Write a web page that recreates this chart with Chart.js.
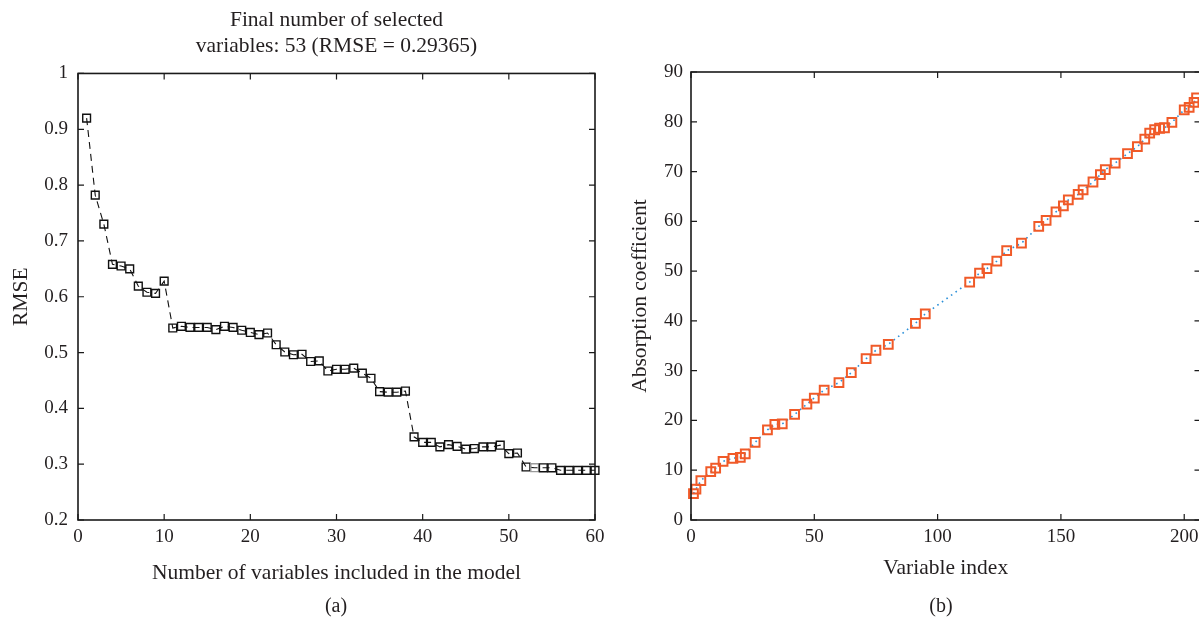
<!DOCTYPE html>
<html><head><meta charset="utf-8">
<script src="https://cdn.jsdelivr.net/npm/chart.js@4.4.0/dist/chart.umd.min.js"></script>
<style>
html,body{margin:0;padding:0;background:#fff;overflow:hidden;width:1199px;height:620px;position:relative;}
#ca{position:absolute;left:0;top:0;}
#cb{position:absolute;left:600px;top:0;}
.lab{position:absolute;top:594px;font:20px "Liberation Serif",serif;color:#231f20;transform:translateX(-50%);}
</style></head><body>
<canvas id="ca" width="620" height="620"></canvas>
<canvas id="cb" width="620" height="620"></canvas>
<div class="lab" style="left:336px">(a)</div>
<div class="lab" style="left:941px">(b)</div>
<script>
// ---- Panel (a): RMSE vs number of variables ----
const nVars = [1,2,3,4,5,6,7,8,9,10,11,12,13,14,15,16,17,18,19,20,21,22,23,24,25,26,27,28,29,30,31,32,33,34,35,36,37,38,39,40,41,42,43,44,45,46,47,48,49,50,51,52,53,54,55,56,57,58,59,60];
const rmse = [0.920,0.782,0.730,0.658,0.655,0.650,0.619,0.608,0.606,0.628,
              0.544,0.547,0.545,0.545,0.545,0.541,0.547,0.545,0.540,0.536,
              0.532,0.535,0.514,0.501,0.496,0.497,0.484,0.485,0.467,0.470,
              0.470,0.472,0.463,0.454,0.430,0.429,0.429,0.431,0.349,0.339,
              0.339,0.331,0.335,0.332,0.327,0.328,0.331,0.331,0.334,0.319,
              0.320,0.295,0.2937,0.2935,0.2935,0.289,0.289,0.289,0.289,0.289];
const finalCount = 53;
const finalRmse = '0.29365';
const titleA = ['Final number of selected', 'variables: ' + finalCount + ' (RMSE = ' + finalRmse + ')'];
const xTitleA = 'Number of variables included in the model';
const yTitleA = 'RMSE';

// ---- Panel (b): selected variables on the spectrum ----
const selIdx = [1,2,4,8,10,13,17,20,22,26,31,34,37,42,47,50,54,60,65,71,75,80,91,95,113,117,120,124,128,134,141,144,148,151,153,157,159,163,166,168,172,177,181,184,186,188,190,192,195,200,202,204,205];
const selAbs = [5.3,6.2,7.9,9.7,10.4,11.8,12.4,12.6,13.3,15.6,18.1,19.2,19.3,21.2,23.3,24.5,26.1,27.6,29.6,32.4,34.1,35.3,39.5,41.4,47.8,49.6,50.5,52.0,54.1,55.6,59.0,60.2,61.9,63.1,64.3,65.4,66.3,67.9,69.4,70.4,71.7,73.6,75.0,76.5,77.7,78.4,78.7,78.8,79.9,82.4,82.9,83.9,84.8];
const xTitleB = 'Variable index';
const yTitleB = 'Absorption coefficient';

const FONT = '"Liberation Serif", "Times New Roman", serif';
const TXT = '#231f20';
const tickFont = {family: FONT, size: 19, weight: 'normal'};
const titleFont = {family: FONT, size: 21.5, weight: 'normal', lineHeight: 1.22};

const boxTicks = {
  id: 'boxTicks',
  afterDraw(chart) {
    const {ctx, chartArea: a, scales: {x, y}} = chart;
    const L = 6;
    ctx.save();
    ctx.strokeStyle = '#1a1a1a';
    ctx.lineWidth = 1.2;
    ctx.beginPath();
    x.ticks.forEach(t => {
      const px = x.getPixelForValue(t.value);
      ctx.moveTo(px, a.bottom); ctx.lineTo(px, a.bottom - L);
      ctx.moveTo(px, a.top); ctx.lineTo(px, a.top + L);
    });
    y.ticks.forEach(t => {
      const py = y.getPixelForValue(t.value);
      ctx.moveTo(a.left, py); ctx.lineTo(a.left + L, py);
      ctx.moveTo(a.right, py); ctx.lineTo(a.right - L, py);
    });
    ctx.stroke();
    ctx.lineWidth = 1.6;
    ctx.strokeRect(a.left, a.top, a.right - a.left, a.bottom - a.top);
    ctx.restore();
  }
};

function axis(opts) {
  return Object.assign({
    type: 'linear',
    grid: {display: false, drawTicks: false},
    border: {display: false},
  }, opts);
}

new Chart(document.getElementById('ca'), {
  type: 'line',
  data: {
    datasets: [{
      data: nVars.map((v, i) => ({x: v, y: rmse[i]})),
      borderColor: '#111',
      borderWidth: 1.1,
      borderDash: [7, 5],
      pointStyle: 'rect',
      pointRadius: 5.5,
      pointBorderWidth: 1.4,
      pointBackgroundColor: 'rgba(0,0,0,0)',
      pointBorderColor: nVars.map(v => v === finalCount ? '#9a9a9a' : '#111'),
      tension: 0,
      clip: false
    }]
  },
  options: {
    responsive: false, animation: false, devicePixelRatio: 1,
    layout: {padding: {left: 0, right: 25, top: 0, bottom: 30}},
    plugins: {
      legend: {display: false}, tooltip: {enabled: false},
      title: {display: true, text: titleA, fullSize: false, color: TXT, font: titleFont, padding: {top: 7, bottom: 14}}
    },
    scales: {
      x: axis({min: 0, max: 60, ticks: {stepSize: 10, padding: 6, color: TXT, font: tickFont},
        title: {display: true, text: xTitleA, color: TXT, font: titleFont, padding: {top: 0, bottom: 4}},
        afterFit(s) { s.height = 70; }}),
      y: axis({min: 0.2, max: 1, ticks: {stepSize: 0.1, padding: 10, color: TXT, font: tickFont,
          callback: v => String(Number(v.toFixed(1)))},
        title: {display: true, text: yTitleA, color: TXT, font: titleFont, padding: {top: 8, bottom: 0}},
        afterFit(s) { s.width = 78; }})
    }
  },
  plugins: [boxTicks]
});

new Chart(document.getElementById('cb'), {
  type: 'line',
  data: {
    datasets: [{
      data: selIdx.map((v, i) => ({x: v, y: selAbs[i]})),
      showLine: false,
      pointStyle: 'rect',
      pointRadius: 6.2,
      pointBorderWidth: 2,
      pointBackgroundColor: 'rgba(0,0,0,0)',
      pointBorderColor: '#f05a28',
      clip: false
    }, {
      data: selIdx.map((v, i) => ({x: v, y: selAbs[i]})),
      borderColor: '#2b8fd8',
      borderWidth: 1.6,
      borderDash: [1.6, 4],
      pointRadius: 0,
      tension: 0,
      clip: false
    }]
  },
  options: {
    responsive: false, animation: false, devicePixelRatio: 1,
    layout: {padding: {left: 0, right: 19.5, top: 72, bottom: 30}},
    plugins: {legend: {display: false}, tooltip: {enabled: false}},
    scales: {
      x: axis({min: 0, max: 206.6, ticks: {stepSize: 50, includeBounds: false, padding: 6, color: TXT, font: tickFont},
        title: {display: true, text: xTitleB, color: TXT, font: titleFont, padding: {top: 0, bottom: 9}},
        afterFit(s) { s.height = 70; }}),
      y: axis({min: 0, max: 90, ticks: {stepSize: 10, padding: 8, color: TXT, font: tickFont},
        title: {display: true, text: yTitleB, color: TXT, font: titleFont, padding: {top: 27, bottom: 0}},
        afterFit(s) { s.width = 91; }})
    }
  },
  plugins: [boxTicks]
});
</script>
</body></html>
